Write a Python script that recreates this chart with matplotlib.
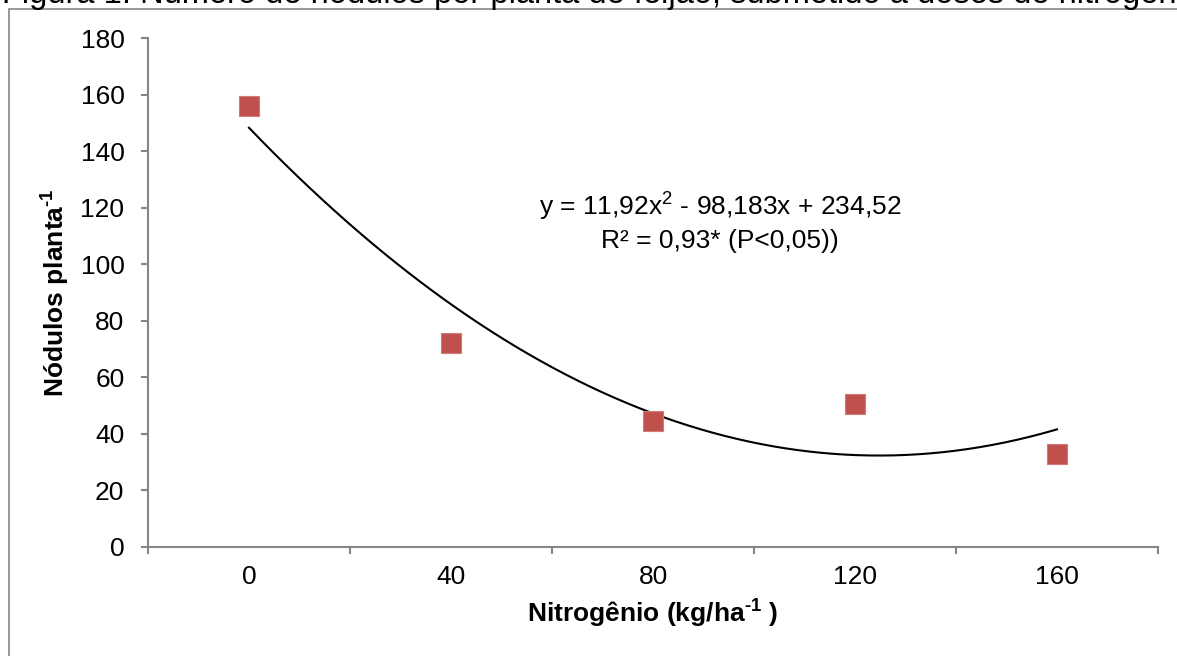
import matplotlib
matplotlib.use("Agg")
import matplotlib.pyplot as plt
import numpy as np
from matplotlib.patches import Rectangle

plt.rcParams['font.family'] = ['Liberation Sans', 'DejaVu Sans']
plt.rcParams['mathtext.fontset'] = 'custom'
plt.rcParams['mathtext.rm'] = 'Liberation Sans'
plt.rcParams['mathtext.it'] = 'Liberation Sans'
plt.rcParams['mathtext.bf'] = 'Liberation Sans:bold'

# Data
categories = ['0', '40', '80', '120', '160']
nodulos = [156, 72, 44.5, 50.5, 33]
# Trend line coefficients (as shown in the chart, x = category index 1..5)
coef_a, coef_b, coef_c = 11.92, -98.183, 234.52
yticks = [0, 20, 40, 60, 80, 100, 120, 140, 160, 180]

W, H = 1177, 656
fig = plt.figure(figsize=(W / 100, H / 100), dpi=100)
ax = fig.add_axes([148 / W, 1 - 547 / H, (1158 - 148) / W, (547 - 38) / H])

axis_col = '#868686'
FS = 19
xpos = np.arange(1, len(categories) + 1)
ax.plot(xpos, nodulos, linestyle='none', marker='s', markersize=14.5,
        markerfacecolor='#C0504D', markeredgecolor='#D27A77', markeredgewidth=0.8, zorder=3)

xs = np.linspace(1, 5, 200)
ax.plot(xs, coef_a * xs ** 2 + coef_b * xs + coef_c, color='black', linewidth=1.5, zorder=2)

ax.set_xlim(0.5, 5.5)
ax.set_ylim(0, 180)
ax.set_yticks(yticks)
ax.set_yticklabels([str(v) for v in yticks])
ax.set_xticks(xpos)
ax.set_xticklabels(categories)
ax.set_xticks(np.arange(0.5, 6.0, 1.0), minor=True)

for s in ['top', 'right']:
    ax.spines[s].set_visible(False)
for s in ['left', 'bottom']:
    ax.spines[s].set_color(axis_col)
    ax.spines[s].set_linewidth(1.5)

ax.tick_params(axis='y', direction='out', length=5, width=1.5, color=axis_col,
               labelsize=FS, pad=12, labelcolor='black')
ax.tick_params(axis='x', which='major', length=0, labelsize=FS, pad=13, labelcolor='black')
ax.tick_params(axis='x', which='minor', direction='out', length=5, width=1.5, color=axis_col)

ax.set_ylabel('Nódulos planta$^{\\mathbf{\u2010 1}}$', fontsize=FS, fontweight='bold', labelpad=6)
ax.set_xlabel('Nitrogênio (kg/ha$^{\\mathbf{\u2010 1}}$ )', fontsize=FS, fontweight='bold', labelpad=6)

ax.text(720 / W, 1 - 207 / H, 'y = 11,92x$^{2}$ - 98,183x + 234,52', transform=fig.transFigure,
        ha='center', va='center', fontsize=FS)
ax.text(720 / W, 1 - 241 / H, 'R² = 0,93* (P<0,05))', transform=fig.transFigure,
        ha='center', va='center', fontsize=FS)

# Outer frame and partially visible caption
fig.patches.append(Rectangle((9 / W, -0.1), 1.2, 1 - 9 / H + 0.1, transform=fig.transFigure,
                             fill=False, edgecolor=axis_col, linewidth=1.2))
fig.text(2 / W, 1 - 3 / H, 'Figura 1. Número de nódulos por planta de feijão, submetido a doses de nitrogênio',
         ha='left', va='baseline', fontsize=23.5)

fig.savefig('out.png', dpi=100)
